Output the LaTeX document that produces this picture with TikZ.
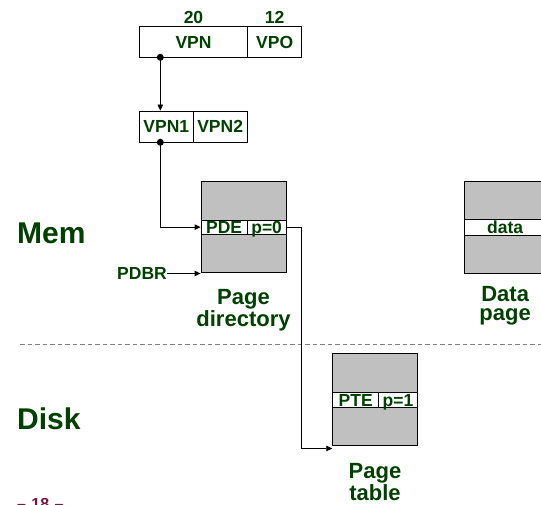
\documentclass[tikz,border=0pt]{standalone}
\usepackage{fontspec}
\setmainfont{Liberation Sans}
\usetikzlibrary{arrows.meta,calc}
\definecolor{lab}{RGB}{0,64,0}
\definecolor{pgnum}{RGB}{120,20,70}
\definecolor{boxgray}{RGB}{192,192,192}
\definecolor{sepgray}{RGB}{128,128,128}
\begin{document}
\begin{tikzpicture}[x=1pt,y=-1pt,
  lbl/.style={font=\fontsize{17.5}{19}\selectfont\bfseries, text=lab},
  cell/.style={lbl, draw=black, line width=0.9pt, fill=white, inner sep=0pt, text height=12.5pt, text depth=0pt},
  pagebox/.style={draw=black, line width=0.9pt, fill=boxgray, inner sep=0pt},
  biglbl/.style={font=\fontsize{22}{19.5}\selectfont\bfseries, text=lab, align=center, inner sep=0pt, anchor=north},
  sidelbl/.style={font=\fontsize{30}{32}\selectfont\bfseries, text=lab, inner sep=0pt, anchor=base west},
  arr/.style={line width=0.9pt, -{Triangle[length=6pt,width=5.5pt]}},
  dot/.style={circle, fill=black, inner sep=0pt, minimum size=7pt}
]
\useasboundingbox (0,0) rectangle (541,505);

% virtual address
\node[cell, minimum width=108.4pt, minimum height=30.6pt] (vpn) at (193.5,42) {VPN};
\node[cell, minimum width=54pt, minimum height=30.6pt] (vpo) at (274.7,42) {VPO};
\node[lbl, inner sep=0pt] (w20) at (193.5,17.2) {20};
\node[lbl, inner sep=0pt] (w12) at (274.7,17.2) {12};

\node[cell, minimum width=54pt, minimum height=31.3pt] (vpn1) at (166.3,126.65) {VPN1};
\node[cell, minimum width=53.7pt, minimum height=31.3pt] (vpn2) at (220.15,126.65) {VPN2};

% page directory
\node[pagebox, minimum width=85pt, minimum height=91.7pt] (pd) at (243.5,226.85) {};
\node[cell, minimum width=46.3pt, minimum height=14.3pt] (pde) at (224.15,227.15) {PDE};
\node[cell, minimum width=38.7pt, minimum height=14.3pt] (p0) at (266.65,227.15) {p=0};
\node[biglbl] (pdl) at (243.5,289.3) {Page\\directory};

% page table
\node[pagebox, minimum width=84.6pt, minimum height=92.4pt] (pt) at (375,399.5) {};
\node[cell, minimum width=46pt, minimum height=15pt] (pte) at (355.7,399.8) {PTE};
\node[cell, minimum width=38.6pt, minimum height=15pt] (p1) at (398,399.8) {p=1};
\node[biglbl] (ptl) at (375,463.3) {Page\\table};

% data page
\node[pagebox, minimum width=81.7pt, minimum height=92.3pt] (dp) at (505.15,227.15) {};
\node[cell, minimum width=81.7pt, minimum height=15.7pt] (dat) at (505.15,227.15) {data};
\node[biglbl] (dpl) at (505.15,286) {Data\\page};

% side labels
\node[sidelbl] (mem) at (17,243.3) {Mem};
\node[sidelbl] (disk) at (17,429.3) {Disk};
\node[lbl, inner sep=0pt, anchor=east] (pdbr) at (167,273.5) {PDBR};
\node[font=\fontsize{16}{18}\selectfont\bfseries, text=pgnum, inner sep=0pt, anchor=base west] (pnum) at (17,509.8) {–\,\,18\,\,–};

% separator
\draw[sepgray, line width=0.8pt, dash pattern=on 4.5pt off 3pt] (20,344) -- (541,344);

% connectors
\coordinate (d1) at (160.3,57.3);
\coordinate (d2) at (160.3,142.3);
\draw[arr] (d1) -- (d1 |- vpn1.north);
\draw[arr] (d2) |- (pde.west);
\draw[arr] (pdbr.east) -- (pdbr.east -| pd.west);
\draw[arr] (p0.east) -- ++(15.3,0) |- ([yshift=-2.3pt]pt.south west);
\node[dot] at (d1) {};
\node[dot] at (d2) {};
\end{tikzpicture}
\end{document}
